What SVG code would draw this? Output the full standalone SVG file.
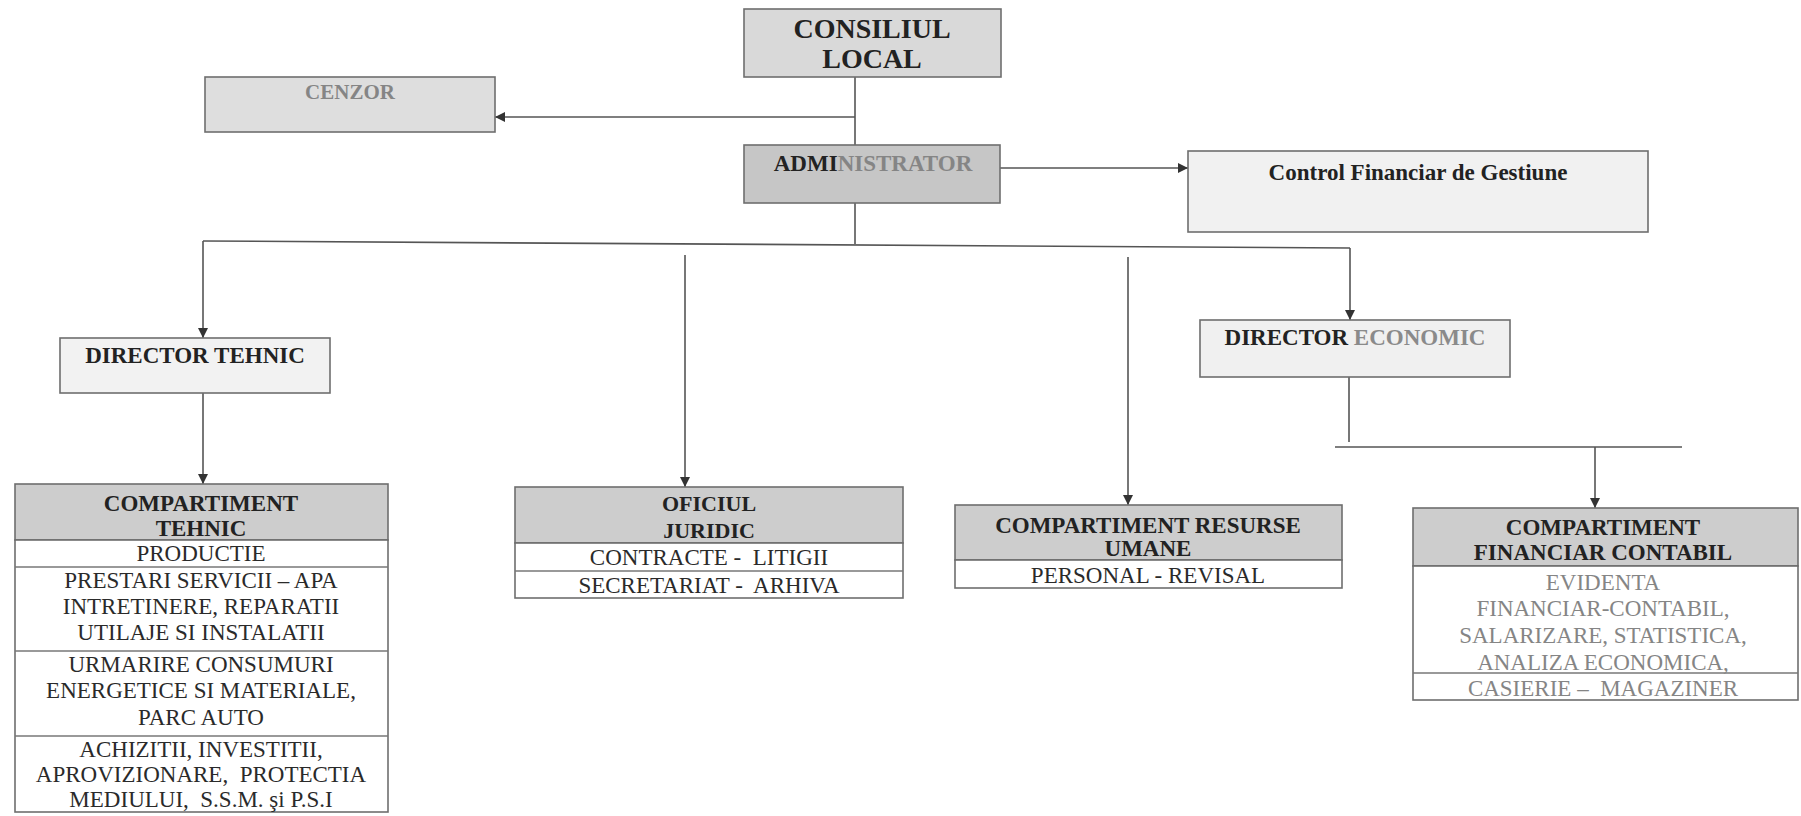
<svg xmlns="http://www.w3.org/2000/svg" width="1801" height="816" viewBox="0 0 1801 816">
<style>
  .box{stroke:#6e6e6e;stroke-width:1.6}
  .hdr{fill:#cdcdcd}
  .body{fill:#ffffff}
  .b{font-family:"Liberation Serif","Times New Roman",serif;font-weight:bold;fill:#222;text-anchor:middle}
  .r{font-family:"Liberation Serif","Times New Roman",serif;fill:#2a2a2a;text-anchor:middle;font-size:23px;white-space:pre}
  .g{fill:#858585}
  .ln{stroke:#555;stroke-width:1.6;fill:none}
  .sep{stroke:#777;stroke-width:1.4}
</style>
<defs>
  <marker id="ah" viewBox="0 0 10 10" refX="10" refY="5" markerWidth="10" markerHeight="10" markerUnits="userSpaceOnUse" orient="auto">
    <path d="M0,0 L10,5 L0,10 z" fill="#333"/>
  </marker>
</defs>
<rect width="1801" height="816" fill="#ffffff"/>

<g id="connectors">
  <line class="ln" x1="855" y1="77" x2="855" y2="145"/>
  <line class="ln" x1="855" y1="117" x2="495" y2="117" marker-end="url(#ah)"/>
  <line class="ln" x1="990" y1="168" x2="1188" y2="168" marker-end="url(#ah)"/>
  <line class="ln" x1="855" y1="203" x2="855" y2="244"/>
  <line class="ln" x1="203" y1="241" x2="1350" y2="248"/>
  <line class="ln" x1="203" y1="241" x2="203" y2="338" marker-end="url(#ah)"/>
  <line class="ln" x1="685" y1="255" x2="685" y2="487" marker-end="url(#ah)"/>
  <line class="ln" x1="1128" y1="257" x2="1128" y2="505" marker-end="url(#ah)"/>
  <line class="ln" x1="1350" y1="248" x2="1350" y2="320" marker-end="url(#ah)"/>
  <line class="ln" x1="203" y1="393" x2="203" y2="484" marker-end="url(#ah)"/>
  <line class="ln" x1="1349" y1="377" x2="1349" y2="442"/>
  <line class="ln" x1="1335" y1="447" x2="1682" y2="447"/>
  <line class="ln" x1="1595" y1="447" x2="1595" y2="508" marker-end="url(#ah)"/>
</g>

<g id="consiliul">
  <rect class="box" x="744" y="9" width="257" height="68" fill="#d9d9d9"/>
  <text class="b" x="872" y="38" font-size="28">CONSILIUL</text>
  <text class="b" x="872" y="68" font-size="28">LOCAL</text>
</g>

<g id="cenzor">
  <rect class="box" x="205" y="77" width="290" height="55" fill="#dedede"/>
  <text class="b g" x="350" y="99" font-size="21">CENZOR</text>
</g>

<g id="administrator">
  <rect class="box" x="744" y="145" width="256" height="58" fill="#c6c6c6"/>
  <text class="b" x="873" y="171" font-size="23"><tspan>ADMI</tspan><tspan fill="#858585">NISTRATOR</tspan></text>
</g>

<g id="control">
  <rect class="box" x="1188" y="151" width="460" height="81" fill="#f1f1f1"/>
  <text class="b" x="1418" y="180" font-size="23">Control Financiar de Gestiune</text>
</g>

<g id="director-tehnic">
  <rect class="box" x="60" y="338" width="270" height="55" fill="#f2f2f2"/>
  <text class="b" x="195" y="363" font-size="23">DIRECTOR TEHNIC</text>
</g>

<g id="director-economic">
  <rect class="box" x="1200" y="320" width="310" height="57" fill="#f0f0f0"/>
  <text class="b" x="1355" y="345" font-size="23"><tspan>DIRECTOR </tspan><tspan fill="#8a8a8a">ECONOMIC</tspan></text>
</g>

<g id="compartiment-tehnic">
  <rect class="box hdr" x="15" y="484" width="373" height="56"/>
  <rect class="box body" x="15" y="540" width="373" height="272"/>
  <line class="sep" x1="15" y1="567" x2="388" y2="567"/>
  <line class="sep" x1="15" y1="651" x2="388" y2="651"/>
  <line class="sep" x1="15" y1="736" x2="388" y2="736"/>
  <text class="b" x="201" y="511" font-size="23">COMPARTIMENT</text>
  <text class="b" x="201" y="536" font-size="23">TEHNIC</text>
  <text class="r" x="201" y="561" font-size="24">PRODUCTIE</text>
  <text class="r" x="201" y="588" font-size="24">PRESTARI SERVICII – APA</text>
  <text class="r" x="201" y="614" font-size="24">INTRETINERE, REPARATII</text>
  <text class="r" x="201" y="640" font-size="24">UTILAJE SI INSTALATII</text>
  <text class="r" x="201" y="672" font-size="24">URMARIRE CONSUMURI</text>
  <text class="r" x="201" y="698" font-size="24">ENERGETICE SI MATERIALE,</text>
  <text class="r" x="201" y="725" font-size="24">PARC AUTO</text>
  <text class="r" x="201" y="757" font-size="24">ACHIZITII, INVESTITII,</text>
  <text class="r" x="201" y="782" font-size="24" xml:space="preserve">APROVIZIONARE,  PROTECTIA</text>
  <text class="r" x="201" y="807" font-size="24" xml:space="preserve">MEDIULUI,  S.S.M. şi P.S.I</text>
</g>

<g id="oficiul-juridic">
  <rect class="box hdr" x="515" y="487" width="388" height="56"/>
  <rect class="box body" x="515" y="543" width="388" height="55"/>
  <line class="sep" x1="515" y1="571" x2="903" y2="571"/>
  <text class="b" x="709" y="511" font-size="22">OFICIUL</text>
  <text class="b" x="709" y="538" font-size="22">JURIDIC</text>
  <text class="r" x="709" y="565" xml:space="preserve">CONTRACTE -  LITIGII</text>
  <text class="r" x="709" y="593" xml:space="preserve">SECRETARIAT -  ARHIVA</text>
</g>

<g id="compartiment-resurse-umane">
  <rect class="box hdr" x="955" y="505" width="387" height="55"/>
  <rect class="box body" x="955" y="560" width="387" height="28"/>
  <text class="b" x="1148" y="533" font-size="23">COMPARTIMENT RESURSE</text>
  <text class="b" x="1148" y="556" font-size="23">UMANE</text>
  <text class="r" x="1148" y="583">PERSONAL - REVISAL</text>
</g>

<g id="compartiment-financiar-contabil">
  <rect class="box hdr" x="1413" y="508" width="385" height="58"/>
  <rect class="box body" x="1413" y="566" width="385" height="134"/>
  <line class="sep" x1="1413" y1="673" x2="1798" y2="673"/>
  <text class="b" x="1603" y="535" font-size="23">COMPARTIMENT</text>
  <text class="b" x="1603" y="560" font-size="23">FINANCIAR CONTABIL</text>
  <text class="r g" x="1603" y="590">EVIDENTA</text>
  <text class="r g" x="1603" y="616">FINANCIAR-CONTABIL,</text>
  <text class="r g" x="1603" y="643">SALARIZARE, STATISTICA,</text>
  <text class="r g" x="1603" y="670">ANALIZA ECONOMICA,</text>
  <text class="r g" x="1603" y="696" xml:space="preserve">CASIERIE –  MAGAZINER</text>
</g>
</svg>
